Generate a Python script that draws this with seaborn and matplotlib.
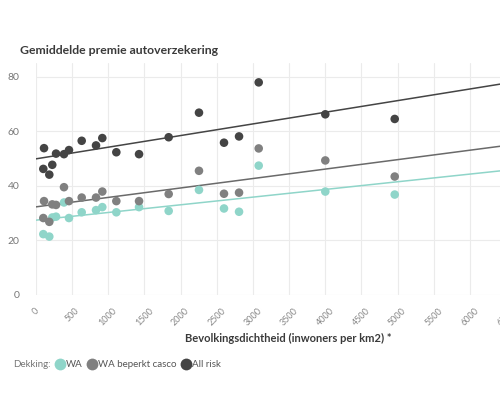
import matplotlib
matplotlib.use("Agg")
import matplotlib.pyplot as plt
import seaborn as sns
import pandas as pd
from matplotlib.lines import Line2D

# ---- data ----
dichtheid_wa = [101, 184, 225, 277, 387, 456, 632, 830, 917, 1111, 1425, 1835,
                2254, 2600, 2808, 3080, 4001, 4961]
premie_wa = [22.3, 21.4, 28.4, 28.7, 33.9, 28.2, 30.3, 31.1, 32.2, 30.3, 32.2, 30.8,
             38.5, 31.7, 30.5, 47.4, 37.9, 36.8]

dichtheid_bc = [101, 111, 184, 225, 277, 387, 456, 632, 830, 917, 1111, 1425, 1835,
                2254, 2600, 2808, 3080, 4001, 4961]
premie_bc = [28.2, 34.4, 26.8, 33.2, 33.0, 39.5, 34.4, 35.7, 35.7, 37.9, 34.4, 34.4, 37.0,
             45.5, 37.1, 37.5, 53.7, 49.3, 43.4]

dichtheid_ar = [101, 111, 184, 225, 277, 387, 456, 632, 830, 917, 1111, 1425, 1835,
                2254, 2600, 2808, 3080, 4001, 4961]
premie_ar = [46.2, 53.8, 44.1, 47.7, 51.8, 51.6, 53.1, 56.5, 54.8, 57.5, 52.3, 51.6, 57.8,
             66.8, 55.8, 58.1, 77.9, 66.2, 64.5]

dekking = ["WA", "WA beperkt casco", "All risk"]
x_ticks = list(range(0, 6501, 500))
y_ticks = [0, 20, 40, 60, 80]

point_colors = {"WA": "#8fd5c9", "WA beperkt casco": "#808080", "All risk": "#444444"}
line_colors = {"WA": "#8fd5c9", "WA beperkt casco": "#6a6a6a", "All risk": "#454545"}

df = pd.concat([
    pd.DataFrame({"x": dichtheid_wa, "y": premie_wa, "Dekking": "WA"}),
    pd.DataFrame({"x": dichtheid_bc, "y": premie_bc, "Dekking": "WA beperkt casco"}),
    pd.DataFrame({"x": dichtheid_ar, "y": premie_ar, "Dekking": "All risk"}),
], ignore_index=True)

sns.set_theme(style="whitegrid")
plt.rcParams["font.family"] = ["Lato", "DejaVu Sans"]

fig = plt.figure(figsize=(5, 4), dpi=100)
ax = fig.add_axes([0.072, 0.2625, 0.94, 0.58])
ax.set_xlim(0, 6500)
ax.set_ylim(0, 85)

sns.scatterplot(data=df, x="x", y="y", hue="Dekking", hue_order=dekking,
                palette=point_colors, s=38, linewidth=0, ax=ax, legend=False, zorder=3)
for d in dekking:
    sub = df[df["Dekking"] == d]
    sns.regplot(data=sub, x="x", y="y", scatter=False, ci=None, truncate=False,
                color=line_colors[d], line_kws={"linewidth": 1.1, "zorder": 2}, ax=ax)

ax.set_xlim(0, 6500)
ax.set_ylim(0, 85)
ax.set_xticks(x_ticks)
ax.set_yticks(y_ticks)
ax.set_xticklabels([str(v) for v in x_ticks], rotation=45, ha="center",
                   fontsize=6.5, color="#888888")
ax.tick_params(axis="y", labelsize=7.5, labelcolor="#777777", pad=6)
ax.tick_params(axis="x", pad=2)
ax.grid(True, color="#ebebeb", linewidth=0.8)
for s in ax.spines.values():
    s.set_visible(False)
ax.set_xlabel("")
ax.set_ylabel("")

fig.text(0.04, 0.875, "Gemiddelde premie autoverzekering", fontsize=8.8,
         fontweight="bold", color="#3a3a3a", ha="left", va="center")
fig.text(0.576, 0.155, "Bevolkingsdichtheid (inwoners per km2) *", fontsize=8,
         fontweight="bold", color="#3a3a3a", ha="center", va="center")

fig.text(0.026, 0.088, "Dekking:", fontsize=7, color="#777777", ha="left", va="center")
handles = [Line2D([], [], marker="o", linestyle="", markersize=8.5,
                  markerfacecolor=point_colors[d], markeredgewidth=0) for d in dekking]
fig.legend(handles, dekking, loc="center left", bbox_to_anchor=(0.112, 0.088),
           ncol=3, frameon=False, fontsize=7, handlelength=0.8, handletextpad=0.2,
           columnspacing=0.6, labelcolor="#555555", borderaxespad=0, borderpad=0)

fig.savefig("out.png", dpi=100, facecolor="white")
